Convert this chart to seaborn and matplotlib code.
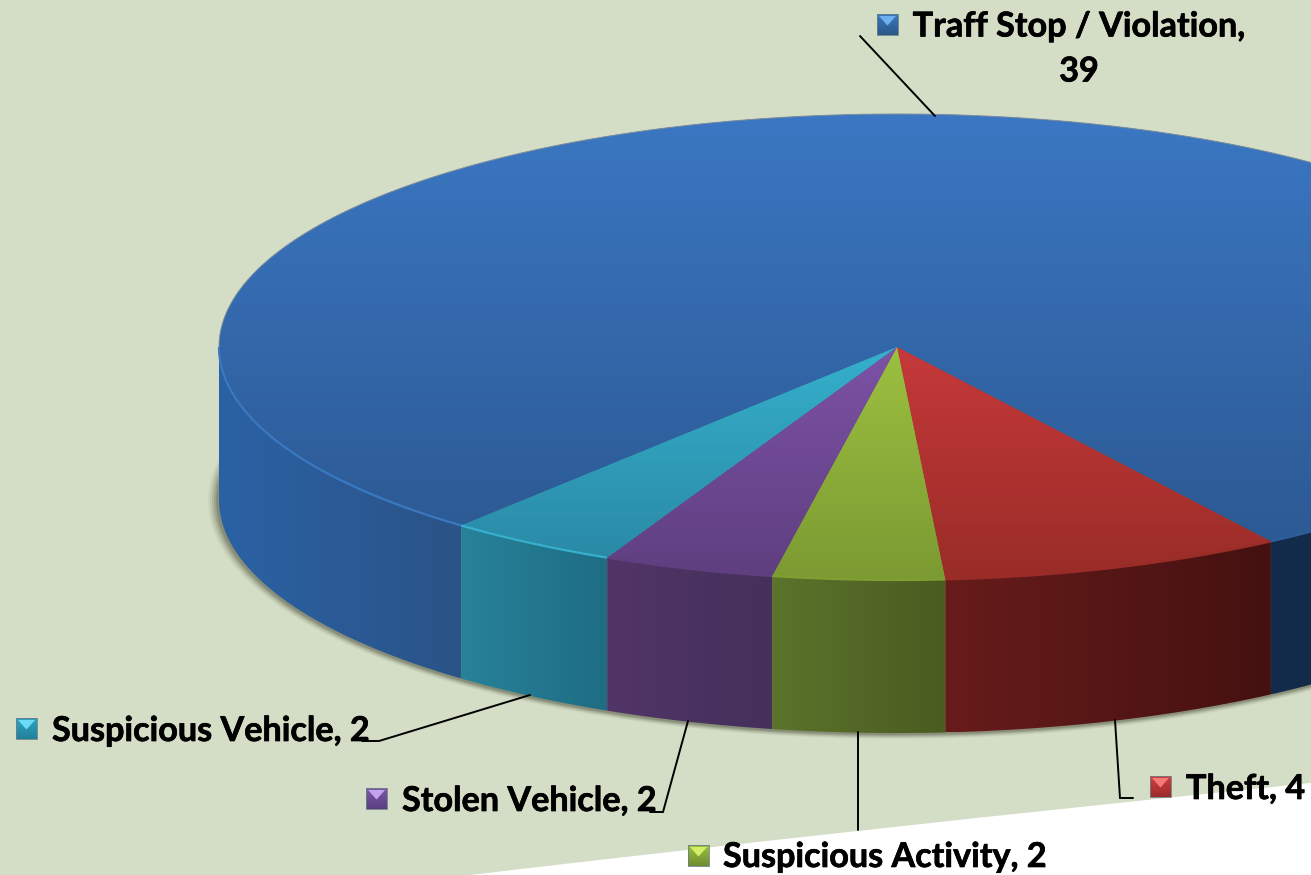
import numpy as np
import seaborn as sns
import matplotlib.pyplot as plt
import matplotlib.patheffects as pe
from matplotlib.patches import Polygon, Rectangle, Ellipse, PathPatch
from matplotlib.path import Path
from matplotlib.transforms import Affine2D

# Data
categories = ['Traff Stop / Violation', 'Theft', 'Suspicious Activity', 'Stolen Vehicle', 'Suspicious Vehicle']
values = [39, 4, 2, 2, 2]

# Gradient colours per slice (top face: upper/lower, side wall: left/right)
top_hi = ['#3b77c3', '#c6393a', '#9cc040', '#7d52a6', '#35b0cc']
top_lo = ['#2c5a94', '#992c27', '#7c9a32', '#5f3f80', '#2a8aa6']
wall_l = ['#2b62a5', '#671c1b', '#5b732b', '#513567', '#27829a']
wall_r = ['#2a5387', '#441110', '#4a5c20', '#45305b', '#1e6d83']
rim = ['#3a78c0', '#9a2c28', '#7f9e33', '#5f3f80', '#36b0cc']
key_hi = ['#3a78bd', '#d0403f', '#9cc040', '#7d58a8', '#2ea3c4']
key_lo = ['#2a5788', '#9c2c2b', '#6f8d2e', '#5a3f80', '#23809a']
key_light = ['#6db0f0', '#f47a78', '#d2ee66', '#c2a4ee', '#6cdcf4']

W, H = 1311, 875
cx, cy, rx, ry = 897, 347, 678, 233
depth = 153 / ry

sns.set_theme(style='white')
plt.rcParams['font.family'] = ['Lato', 'DejaVu Sans']

fig = plt.figure(figsize=(W / 100, H / 100), dpi=100, facecolor='#d4ddc5')
ax = fig.add_axes([0, 0, 1, 1])

# transform for things placed in picture pixels
pix = Affine2D().scale(1 / W, -1 / H).translate(0, 1) + fig.transFigure

wedges, _ = ax.pie(values, startangle=230, counterclock=False, radius=1, colors=top_lo,
                   wedgeprops={'linewidth': 0, 'zorder': 5})
ax.set_aspect('auto')
ax.set_autoscale_on(False)

# white corner of the slide
corner = Path([(470, 875), (850, 830), (1311, 783), (1311, 875), (470, 875)],
              [Path.MOVETO, Path.CURVE3, Path.CURVE3, Path.LINETO, Path.CLOSEPOLY])
ax.add_patch(PathPatch(corner, transform=pix, facecolor='white', edgecolor='none', zorder=0))

# soft shadow under the disc
for grow, alpha in zip([10, 8, 6, 4, 2], [0.06, 0.09, 0.13, 0.18, 0.24]):
    ax.add_patch(Ellipse((cx - 1, cy + 153 + 1), 2 * (rx + grow), 2 * (ry + grow * 0.5), transform=pix,
                         facecolor='#4a4d38', edgecolor='none', alpha=alpha, zorder=1))

# top face and wall of every slice
for i, w in enumerate(wedges):
    t1, t2 = w.theta1, w.theta2
    t = np.radians(np.linspace(t1, t2, 200))
    ylow = np.sin(t).min()
    top_cmap = sns.blend_palette([top_lo[i], top_hi[i]], 64, as_cmap=True)
    grad = np.linspace(1, 0, 128).reshape(-1, 1)
    ymax = 1 if i == 0 else 0
    im = ax.imshow(grad, cmap=top_cmap, aspect='auto', vmin=0, vmax=1,
                   extent=(-1.4, 1.4, ylow, ymax), zorder=6)
    im.set_clip_path(w)

    # the wall is only visible where the rim faces the viewer
    for k in (-1, 0):
        a = max(t1, 180 + 360 * k)
        b = min(t2, 360 + 360 * k)
        if a >= b:
            continue
        arc = np.radians(np.linspace(a, b, 120))
        xs, ys = np.cos(arc), np.sin(arc)
        side = Polygon(np.r_[np.c_[xs, ys], np.c_[xs[::-1], ys[::-1] - depth]], closed=True,
                       facecolor='none', edgecolor='none', zorder=3)
        ax.add_patch(side)
        dark_side = i == 0 and k == -1
        left, right = ('#142c4c', '#0f2238') if dark_side else (wall_l[i], wall_r[i])
        wall_cmap = sns.blend_palette([left, right], 64, as_cmap=True)
        im2 = ax.imshow(np.linspace(0, 1, 128).reshape(1, -1), cmap=wall_cmap, aspect='auto', vmin=0, vmax=1,
                        extent=(xs.min(), xs.max(), ys.min() - depth, ys.max()), zorder=4)
        im2.set_clip_path(side)
        # lighter bevel along the front edge
        ax.plot(xs, ys, color='#2d5e9c' if dark_side else rim[i], lw=1.6, zorder=7, solid_capstyle='butt')

# thin grey edge on the back of the disc
arc = np.radians(np.linspace(0, 180, 300))
ax.plot(np.cos(arc), np.sin(arc), color='#7d8f9e', lw=0.7, zorder=7)

# leader lines
leaders = [
    [(860, 36), (935, 116)],
    [(1115, 720), (1120, 798), (1133, 798)],
    [(858, 732), (858, 830)],
    [(688, 721), (663, 812), (650, 812)],
    [(530, 695), (379, 741), (362, 741)],
]
for pts in leaders:
    xs, ys = zip(*pts)
    ax.plot(xs, ys, color='black', lw=1.4, transform=pix, zorder=8, clip_on=False,
            solid_joinstyle='miter')

# labels with their bevelled colour keys
key_pos = [(877, 14), (1150, 776), (688, 845), (366, 788), (16, 718)]
text_pos = [None, (1186, 789), (723, 857), (402, 801), (52, 731)]
size = 24.6
key = 21
heavier = [pe.withStroke(linewidth=0.5, foreground='black')]
for i, name in enumerate(categories):
    kx, ky = key_pos[i]
    key_cmap = sns.blend_palette([key_lo[i], key_hi[i]], 32, as_cmap=True)
    ax.imshow(np.linspace(1, 0, 32).reshape(-1, 1), cmap=key_cmap, aspect='auto', vmin=0, vmax=1,
              extent=(kx, kx + key, ky + key, ky), transform=pix, zorder=9)
    ax.add_patch(Rectangle((kx, ky), key, key, transform=pix, facecolor='none',
                           edgecolor='#6d7f88', lw=0.6, zorder=10))
    ax.add_patch(Polygon([(kx + 2, ky + 2), (kx + key - 2, ky + 2), (kx + key / 2, ky + key * 0.55)], closed=True,
                         transform=pix, facecolor=key_light[i], edgecolor='none', zorder=10))
    if text_pos[i] is None:
        ax.text(1079, 49, f'{name},\n{values[i]}', transform=pix, ha='center', va='center', multialignment='center',
                fontsize=size, fontweight='bold', color='black', linespacing=1.5, zorder=11,
                path_effects=heavier)
    else:
        ax.text(text_pos[i][0], text_pos[i][1], f'{name}, {values[i]}', transform=pix, ha='left', va='center',
                fontsize=size, fontweight='bold', color='black', zorder=11, path_effects=heavier)

ax.set_xlim(-cx / rx, (W - cx) / rx)
ax.set_ylim(-(H - cy) / ry, cy / ry)

fig.savefig('out.png', dpi=100, facecolor=fig.get_facecolor())
